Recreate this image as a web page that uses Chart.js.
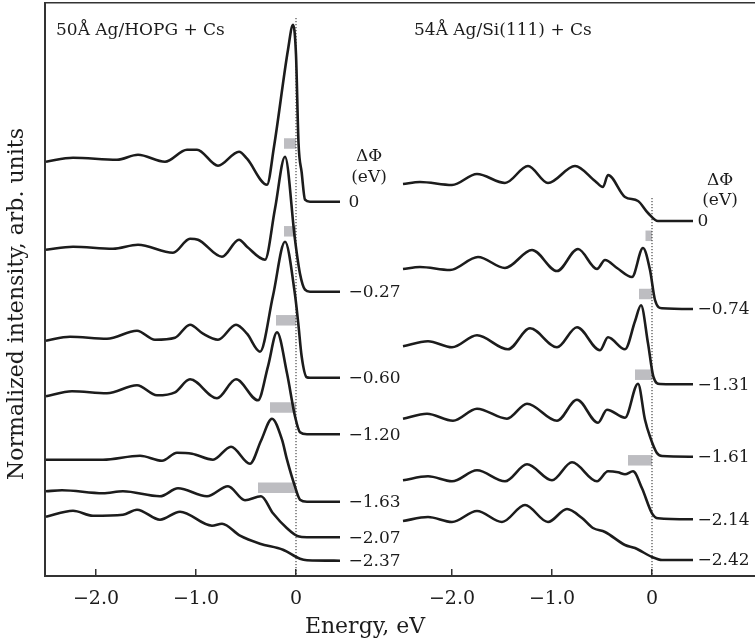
<!DOCTYPE html>
<html>
<head>
<meta charset="utf-8">
<script src="https://cdn.jsdelivr.net/npm/chart.js@4.4.0/dist/chart.umd.min.js"></script>
<style>
  html, body { margin: 0; padding: 0; background: #fff; }
  #wrap { width: 755px; height: 640px; }
</style>
</head>
<body>
<div id="wrap"><canvas id="chart"></canvas></div>
<script>
// spectra: [energy eV, intensity above own baseline, arb. units]
const hopg0 = [[-2.50,0.40],[-2.23,0.44],[-1.79,0.42],[-1.58,0.47],[-1.31,0.40],[-1.09,0.52],[-0.99,0.52],[-0.78,0.36],[-0.57,0.50],[-0.49,0.43],[-0.29,0.17],[-0.22,0.55],[-0.08,1.52],[-0.03,1.77],[0.0,1.47],[0.025,0.59],[0.057,0.29],[0.09,0.02],[0.14,0],[0.44,0]];
const hopg1 = [[-2.50,0.42],[-2.23,0.45],[-1.83,0.43],[-1.58,0.47],[-1.23,0.39],[-1.06,0.53],[-0.98,0.52],[-0.74,0.35],[-0.57,0.52],[-0.49,0.45],[-0.31,0.32],[-0.21,0.83],[-0.11,1.35],[-0.01,0.52],[0.04,0.18],[0.09,0.02],[0.14,0],[0.44,0]];
const hopg2 = [[-2.50,0.37],[-2.26,0.41],[-1.89,0.39],[-1.59,0.47],[-1.41,0.38],[-1.21,0.40],[-1.06,0.53],[-0.93,0.44],[-0.78,0.38],[-0.60,0.53],[-0.49,0.44],[-0.36,0.26],[-0.23,0.82],[-0.11,1.36],[-0.01,0.83],[0.023,0.54],[0.057,0.21],[0.107,0.005],[0.14,0],[0.44,0]];
const hopg3 = [[-2.50,0.38],[-2.24,0.43],[-1.89,0.41],[-1.59,0.49],[-1.39,0.39],[-1.21,0.42],[-1.06,0.55],[-0.79,0.36],[-0.60,0.55],[-0.38,0.34],[-0.28,0.68],[-0.19,1.02],[-0.09,0.61],[-0.01,0.18],[0.04,0.02],[0.11,0],[0.44,0]];
const hopg4 = [[-2.50,0.42],[-1.93,0.42],[-1.56,0.46],[-1.34,0.41],[-1.19,0.49],[-1.04,0.48],[-0.83,0.42],[-0.65,0.55],[-0.46,0.38],[-0.35,0.61],[-0.24,0.83],[-0.14,0.62],[-0.09,0.42],[-0.01,0.15],[0.04,0.02],[0.11,0],[0.44,0]];
const hopg5 = [[-2.50,0.46],[-2.34,0.47],[-1.93,0.44],[-1.73,0.46],[-1.36,0.41],[-1.18,0.49],[-0.89,0.41],[-0.68,0.51],[-0.51,0.37],[-0.35,0.41],[-0.23,0.24],[-0.09,0.09],[0.02,0.01],[0.11,0],[0.44,0]];
const hopg6 = [[-2.50,0.44],[-2.23,0.50],[-2.03,0.45],[-1.73,0.46],[-1.59,0.51],[-1.36,0.41],[-1.16,0.49],[-0.84,0.35],[-0.74,0.37],[-0.56,0.25],[-0.36,0.17],[-0.13,0.11],[0.04,0.02],[0.11,0.005],[0.44,0]];

const si0 = [[-2.49,0.37],[-2.32,0.39],[-2.00,0.36],[-1.75,0.47],[-1.47,0.38],[-1.24,0.55],[-1.04,0.38],[-0.77,0.55],[-0.57,0.40],[-0.49,0.34],[-0.44,0.46],[-0.27,0.24],[-0.14,0.20],[-0.04,0.08],[0.06,0],[0.41,0]];
const si1 = [[-2.49,0.40],[-2.32,0.42],[-2.02,0.39],[-1.74,0.52],[-1.47,0.41],[-1.20,0.59],[-0.95,0.38],[-0.74,0.60],[-0.55,0.40],[-0.47,0.49],[-0.35,0.41],[-0.20,0.32],[-0.09,0.61],[-0.02,0.39],[0.03,0.09],[0.10,0.007],[0.41,0]];
const si2 = [[-2.49,0.38],[-2.24,0.43],[-2.00,0.37],[-1.75,0.49],[-1.44,0.35],[-1.22,0.56],[-0.95,0.37],[-0.75,0.57],[-0.52,0.34],[-0.44,0.47],[-0.27,0.35],[-0.17,0.63],[-0.11,0.79],[-0.04,0.41],[0.013,0.08],[0.08,0.003],[0.41,0]];
const si3 = [[-2.49,0.38],[-2.25,0.43],[-1.99,0.36],[-1.75,0.48],[-1.45,0.38],[-1.25,0.53],[-0.95,0.36],[-0.75,0.57],[-0.54,0.34],[-0.45,0.47],[-0.27,0.39],[-0.14,0.73],[-0.07,0.37],[-0.02,0.20],[0.047,0.04],[0.10,0.007],[0.41,0]];
const si4 = [[-2.49,0.39],[-2.24,0.43],[-2.00,0.38],[-1.75,0.49],[-1.47,0.38],[-1.25,0.55],[-1.00,0.39],[-0.80,0.57],[-0.55,0.38],[-0.44,0.48],[-0.34,0.47],[-0.27,0.45],[-0.19,0.48],[-0.10,0.31],[0.00,0.06],[0.06,0.01],[0.41,0]];
const si5 = [[-2.49,0.39],[-2.24,0.43],[-2.00,0.38],[-1.75,0.49],[-1.50,0.38],[-1.27,0.55],[-1.04,0.38],[-0.85,0.51],[-0.70,0.42],[-0.59,0.32],[-0.47,0.28],[-0.27,0.15],[-0.17,0.12],[0.00,0.03],[0.10,0],[0.41,0]];

// work function change of each spectrum and where its baseline sits in the stack
const hopgShifts = ['0', '\u22120.27', '\u22120.60', '\u22121.20', '\u22121.63', '\u22122.07', '\u22122.37'];
const hopgOffsets = [3.743, 2.843, 1.983, 1.417, 0.743, 0.387, 0.153];
const siShifts = ['0', '\u22120.74', '\u22121.31', '\u22121.61', '\u22122.14', '\u22122.42'];
const siOffsets = [3.55, 2.67, 1.917, 1.193, 0.567, 0.16];

// gray bars: start energy (they end at 0) and height in the stack
const hopgGapStart = [-0.12, -0.12, -0.20, -0.26, -0.38];
const hopgGapLevel = [4.325, 3.447, 2.557, 1.685, 0.882];
const siGapStart = [-0.065, -0.13, -0.17, -0.24];
const siGapLevel = [3.402, 2.82, 2.013, 1.157];

const tickEnergies = [-2, -1, 0];
const panelTitles = ['50\u00c5 Ag/HOPG + Cs', '54\u00c5 Ag/Si(111) + Cs'];

// the Si(111) panel sits to the right, its 0 eV is 3.56 units further along x
const SI_SHIFT = 3.56;
const SERIF = '"DejaVu Serif", "Liberation Serif", serif';
const INK = '#1c1c1c';

const hopgCurves = [hopg0, hopg1, hopg2, hopg3, hopg4, hopg5, hopg6];
const siCurves = [si0, si1, si2, si3, si4, si5];

function curve(pts, offset, shift) {
  return {
    data: pts.map(p => ({ x: p[0] + shift, y: p[1] + offset })),
    borderColor: INK,
    borderWidth: 2.6,
    pointRadius: 0,
    cubicInterpolationMode: 'monotone',
    fill: false,
    order: 1,
  };
}

function gapBar(start, level, shift) {
  return {
    data: [{ x: start + shift, y: level }, { x: shift, y: level }],
    borderColor: '#bdbdc1',
    borderWidth: 10.5,
    borderCapStyle: 'butt',
    pointRadius: 0,
    order: 3,
  };
}

function fermiLine(top, shift) {
  return {
    data: [{ x: shift, y: top }, { x: shift, y: 0 }],
    borderColor: '#222',
    borderWidth: 1,
    borderDash: [1.2, 1.8],
    pointRadius: 0,
    order: 2,
  };
}

const datasets = [];
hopgCurves.forEach((c, i) => datasets.push(curve(c, hopgOffsets[i], 0)));
siCurves.forEach((c, i) => datasets.push(curve(c, siOffsets[i], SI_SHIFT)));
hopgGapStart.forEach((s, i) => datasets.push(gapBar(s, hopgGapLevel[i], 0)));
siGapStart.forEach((s, i) => datasets.push(gapBar(s, siGapLevel[i], SI_SHIFT)));
datasets.push(fermiLine(5.58, 0));
datasets.push(fermiLine(3.78, SI_SHIFT));

function fmtTick(v) {
  const e = v > 1 ? v - SI_SHIFT : v;
  if (Math.abs(e) < 1e-6) return '0';
  return '\u2212' + Math.abs(e).toFixed(1);
}

// texts: titles, ΔΦ labels, axis titles
const textPlugin = {
  id: 'panelText',
  afterDatasetsDraw(chart) {
    const { ctx, scales: { x, y } } = chart;
    ctx.save();
    ctx.fillStyle = INK;
    ctx.textBaseline = 'middle';

    ctx.font = '17px ' + SERIF;
    ctx.textAlign = 'left';
    ctx.fillText(panelTitles[0], x.getPixelForValue(-2.40), y.getPixelForValue(5.45));
    ctx.fillText(panelTitles[1], x.getPixelForValue(-2.38 + SI_SHIFT), y.getPixelForValue(5.45));

    hopgShifts.forEach((t, i) => {
      ctx.fillText(t, x.getPixelForValue(0.525), y.getPixelForValue(hopgOffsets[i]) + 1);
    });
    siShifts.forEach((t, i) => {
      ctx.fillText(t, x.getPixelForValue(0.455 + SI_SHIFT), y.getPixelForValue(siOffsets[i]) + 1);
    });

    ctx.textAlign = 'center';
    ctx.fillText('\u0394\u03a6', x.getPixelForValue(0.73), y.getPixelForValue(4.19));
    ctx.fillText('(eV)', x.getPixelForValue(0.73), y.getPixelForValue(3.98));
    ctx.fillText('\u0394\u03a6', x.getPixelForValue(0.68 + SI_SHIFT), y.getPixelForValue(3.95));
    ctx.fillText('(eV)', x.getPixelForValue(0.68 + SI_SHIFT), y.getPixelForValue(3.75));

    ctx.font = '22px ' + SERIF;
    ctx.fillText('Energy, eV', x.getPixelForValue(0.69), chart.chartArea.bottom + 51);
    ctx.translate(17, chart.chartArea.top + 301);
    ctx.rotate(-Math.PI / 2);
    ctx.fillText('Normalized intensity, arb. units', 0, 0);
    ctx.restore();
  }
};

new Chart(document.getElementById('chart'), {
  type: 'line',
  data: { datasets },
  plugins: [textPlugin],
  options: {
    responsive: true,
    maintainAspectRatio: false,
    animation: false,
    devicePixelRatio: 1,
    layout: { padding: { top: 3, left: 0, right: 0, bottom: 0 } },
    plugins: { legend: { display: false }, tooltip: { enabled: false } },
    scales: {
      x: {
        type: 'linear',
        position: 'bottom',
        min: -2.51,
        max: 4.59,
        afterFit: s => { s.height = 64; },
        afterBuildTicks: s => {
          s.ticks = tickEnergies.concat(tickEnergies.map(v => v + SI_SHIFT)).map(v => ({ value: v }));
        },
        grid: { display: true, drawOnChartArea: false, drawTicks: true, tickLength: -7, color: '#333', lineWidth: 1.5 },
        border: { display: true, color: '#333', width: 2 },
        ticks: {
          padding: 19,
          color: INK,
          autoSkip: false,
          maxRotation: 0,
          font: { family: SERIF, size: 19 },
          callback: v => fmtTick(v),
        },
      },
      xTop: {
        type: 'linear',
        position: 'top',
        min: -2.51,
        max: 4.59,
        afterFit: s => { s.height = 0; },
        grid: { display: true, drawOnChartArea: false, drawTicks: false },
        border: { display: true, color: '#333', width: 1.5 },
        ticks: { display: false },
      },
      y: {
        type: 'linear',
        min: 0,
        max: 5.73,
        afterFit: s => { s.width = 45; },
        grid: { display: true, drawOnChartArea: false, drawTicks: false },
        border: { display: true, color: '#333', width: 2 },
        ticks: { display: false },
      },
    },
  },
});
</script>
</body>
</html>
